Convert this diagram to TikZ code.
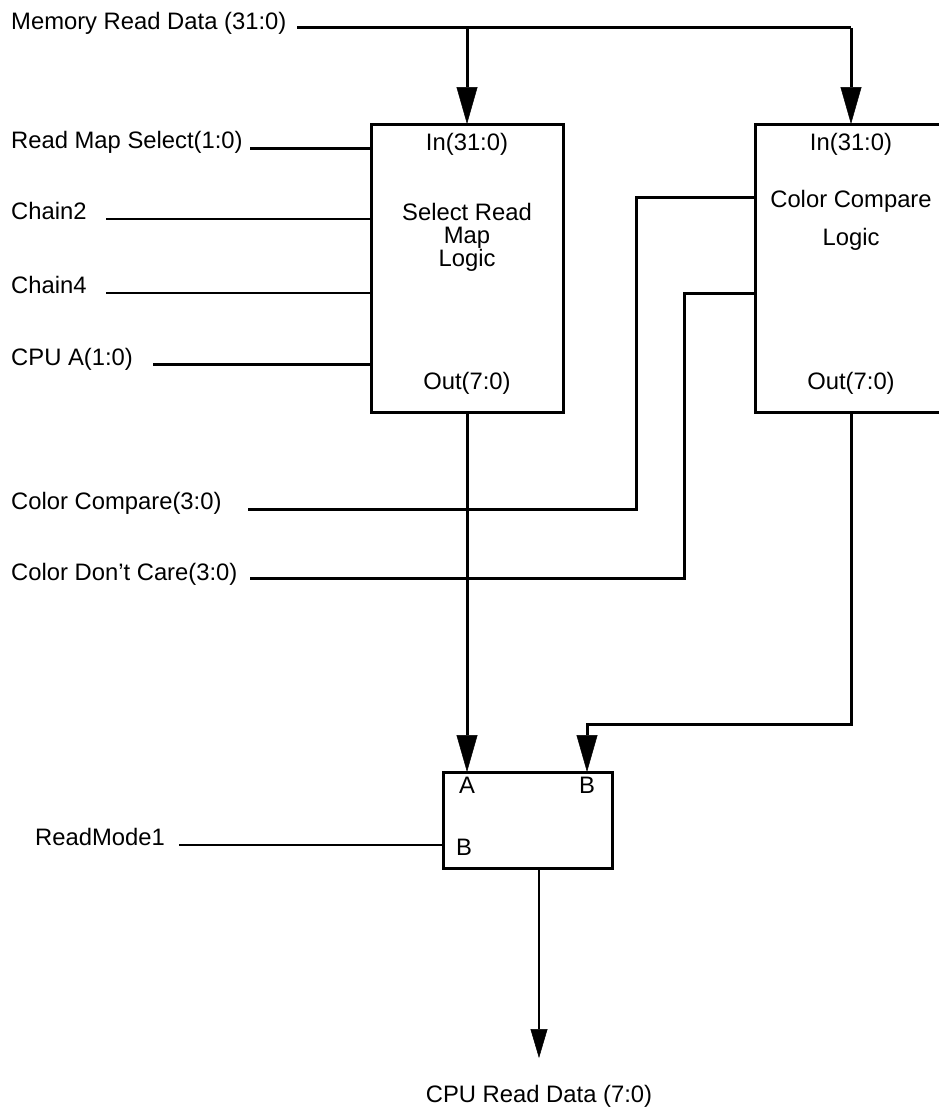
\documentclass[tikz,border=0pt]{standalone}
\usepackage{fontspec}
\setmainfont{Liberation Sans}
\usetikzlibrary{arrows.meta}
\begin{document}
\begin{tikzpicture}[x=1pt,y=-1pt,
  thickw/.style={line width=3pt},
  thinw/.style={line width=2.2pt},
  bigarr/.style={thickw,-{Triangle[length=37pt,width=21pt,line width=0.5pt]}},
  smallarr/.style={thinw,-{Triangle[length=29pt,width=17pt,line width=0.5pt]}},
  lbl/.style={inner sep=0pt,anchor=base west,font=\fontsize{23.8}{28}\selectfont},
  ctxt/.style={inner sep=0pt,anchor=base,font=\fontsize{23.8}{28}\selectfont},
  blk/.style={draw,line width=3pt,inner sep=0pt,outer sep=0pt,rectangle}
]
\useasboundingbox (0,0) rectangle (938,1108);

% blocks
\node[blk,minimum width=192pt,minimum height=288pt] (box1) at (467,268) {};
\node[inner sep=0pt,outer sep=0pt,minimum width=186pt,minimum height=288pt] (box2) at (848,268) {};
\draw[thickw] (box2.north east) -- (box2.north west) -- (box2.south west) -- (box2.south east);
\node[blk,minimum width=169pt,minimum height=96pt] (mux) at (527.5,820) {};

% block texts
\node[ctxt] (in1) at (467,150) {In(31:0)};
\node[ctxt] (t1a) at (467,220) {Select Read};
\node[ctxt] (t1b) at (467,243) {Map};
\node[ctxt] (t1c) at (467,266) {Logic};
\node[ctxt] (out1) at (467,389) {Out(7:0)};
\node[ctxt] (in2) at (851,150) {In(31:0)};
\node[ctxt] (t2a) at (851,207) {Color Compare};
\node[ctxt] (t2b) at (851,245) {Logic};
\node[ctxt] (out2) at (851,389) {Out(7:0)};
\node[ctxt] (ma) at (467,793) {A};
\node[ctxt] (mb) at (587,793) {B};
\node[ctxt] (mb2) at (464,855) {B};

% labels
\node[lbl] (lmem) at (11,30) {Memory Read Data (31:0)};
\node[lbl] (lrms) at (11,148) {Read Map Select(1:0)};
\node[lbl] (lch2) at (11,219) {Chain2};
\node[lbl] (lch4) at (11,293) {Chain4};
\node[lbl] (lcpua) at (11,365) {CPU A(1:0)};
\node[lbl] (lcc) at (11,509) {Color Compare(3:0)};
\node[lbl] (lcdc) at (11,580) {Color Don’t Care(3:0)};
\node[lbl] (lrm) at (35,845) {ReadMode1};
\node[ctxt] (lout) at (539,1102) {CPU Read Data (7:0)};

% coordinates
\coordinate (mem) at (297,28);
\coordinate (j1) at (467,28);
\coordinate (j2) at (851,28);
\coordinate (rms) at (250,148);
\coordinate (ch2) at (106,219);
\coordinate (ch4) at (106,293);
\coordinate (cpua) at (153,364);
\coordinate (cc) at (248,509);
\coordinate (ccturn) at (636,197);
\coordinate (cdc) at (250,578);
\coordinate (cdcturn) at (684,293);
\coordinate (o2) at (851,412);
\coordinate (o2turn) at (587,724);
\coordinate (rm) at (179,845);
\coordinate (mo) at (539,868);
\coordinate (fin) at (539,1058);

% connectors
\draw[thickw] (mem) -- (j2);
\draw[bigarr] (j1) -- (j1 |- box1.north);
\draw[bigarr] (j2) -- (j2 |- box2.north);
\draw[thickw] (rms) -- (rms -| box1.west);
\draw[thinw] (ch2) -- (ch2 -| box1.west);
\draw[thinw] (ch4) -- (ch4 -| box1.west);
\draw[thickw] (cpua) -- (cpua -| box1.west);
\draw[thickw] (cc) -| (ccturn) -- (ccturn -| box2.west);
\draw[thickw] (cdc) -| (cdcturn) -- (cdcturn -| box2.west);
\draw[bigarr] (box1.south) -- (box1.south |- mux.north);
\draw[bigarr] (o2) |- (o2turn) -- (o2turn |- mux.north);
\draw[thinw] (rm) -- (rm -| mux.west);
\draw[smallarr] (mo) -- (fin);
\end{tikzpicture}
\end{document}
